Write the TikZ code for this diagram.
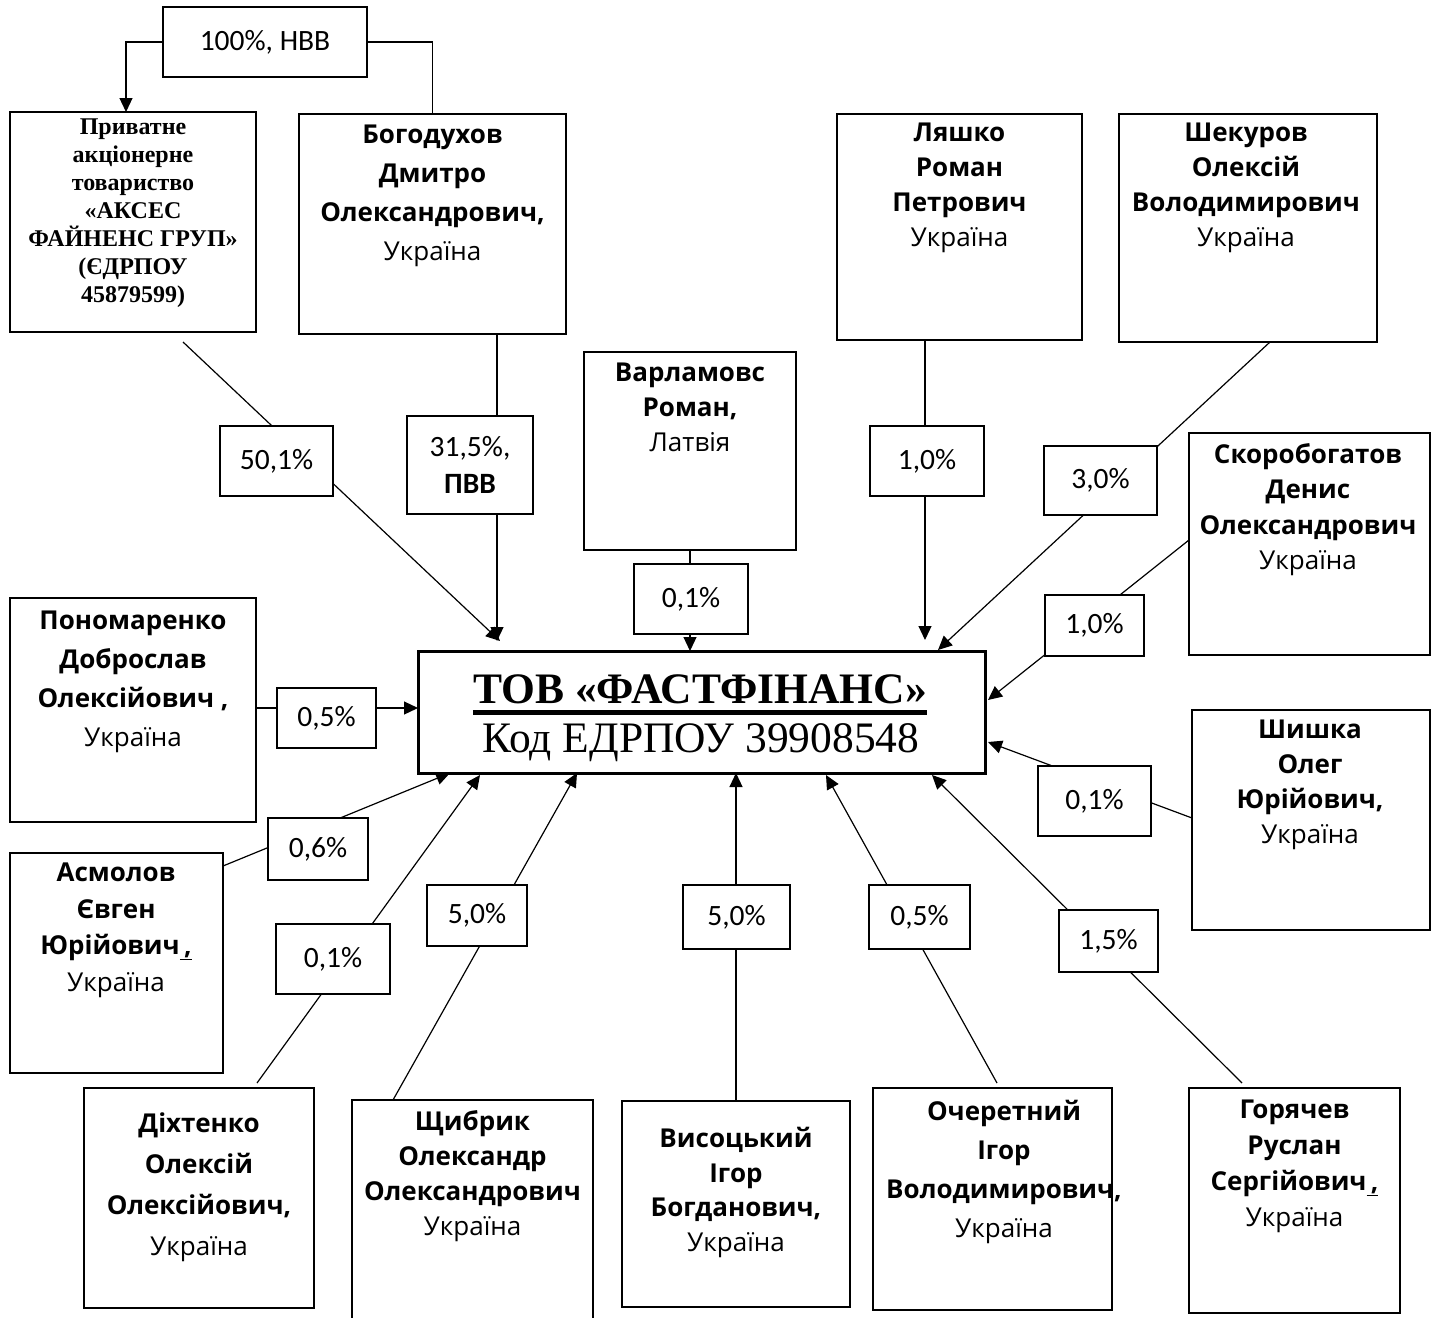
\documentclass[tikz,border=0pt]{standalone}
\usepackage{fontspec}
\setmainfont{Liberation Serif}
\newfontfamily\nmfont{Open Sans}
\newfontfamily\pcfont{Carlito}
\usetikzlibrary{arrows.meta,calc}

\tikzset{
  pbox/.style={draw, fill=white, line width=1.2pt, inner sep=0pt, outer sep=0pt,
    font=\pcfont\fontsize{29.5}{37}\selectfont, align=center},
  nbox/.style={draw, line width=2pt, inner sep=0pt, outer sep=0pt, anchor=north west},
  ntext/.style={anchor=north, align=center, inner sep=0pt,
    font=\nmfont\fontsize{26}{#1}\selectfont},
  ntext/.default=35,
  conn/.style={line width=1.2pt},
  arr/.style={conn, -{Triangle[length=14pt,width=13pt]}},
}

\begin{document}
\begin{tikzpicture}[x=1pt,y=-1pt]
\useasboundingbox (0,0) rectangle (1440,1317);
\clip (0,0) rectangle (1440,1317);

% ---------- shareholder boxes ----------
\node[nbox, minimum width=246pt, minimum height=220pt] (priv) at (10,112) {};
\node[nbox, minimum width=267pt, minimum height=220pt] (bog) at (299,114) {};
\node[nbox, minimum width=245pt, minimum height=226pt] (lya) at (837,114) {};
\node[nbox, minimum width=258pt, minimum height=228pt] (shek) at (1119,114) {};
\node[nbox, minimum width=212pt, minimum height=198pt] (var) at (584,352) {};
\node[nbox, minimum width=241pt, minimum height=222pt] (skor) at (1189,433) {};
\node[nbox, minimum width=246pt, minimum height=224pt] (pon) at (10,598) {};
\node[nbox, minimum width=213pt, minimum height=220pt] (asm) at (10,853) {};
\node[nbox, minimum width=238pt, minimum height=220pt] (shish) at (1192,710) {};
\node[nbox, minimum width=230pt, minimum height=220pt] (dikh) at (84,1088) {};
\node[nbox, minimum width=241pt, minimum height=224pt] (shch) at (352,1100) {};
\node[nbox, minimum width=228pt, minimum height=206pt] (vys) at (622,1101) {};
\node[nbox, minimum width=239pt, minimum height=222pt] (och) at (873,1088) {};
\node[nbox, minimum width=211pt, minimum height=225pt] (gor) at (1189,1088) {};

% ---------- centre box ----------
\node[nbox, line width=3pt, minimum width=567pt, minimum height=122pt] (ctr) at (418,651) {};
\node[anchor=base, inner sep=0pt, font=\bfseries\fontsize{43.5}{50}\selectfont] (ctrT) at (700,703) {ТОВ «ФАСТФІНАНС»};
\node[anchor=base, inner sep=0pt, font=\fontsize{43.5}{50}\selectfont] (ctrC) at (701,752) {Код ЕДРПОУ 39908548};
\draw[line width=5pt] ($(ctrT.base west)+(0,9)$) -- ($(ctrT.base east)+(0,9)$);

% ---------- texts ----------
\node[anchor=north, align=center, inner sep=0pt, font=\bfseries\fontsize{24}{28}\selectfont] (privT) at (133,119)
  {Приватне\\акціонерне\\товариство\\«АКСЕС\\ФАЙНЕНС ГРУП»\\(ЄДРПОУ\\45879599)};
\node[ntext=39] (bogT) at (432.5,125) {\textbf{Богодухов}\\\textbf{Дмитро}\\\textbf{Олександрович,}\\Україна};
\node[ntext] (lyaT) at (959.5,123) {\textbf{Ляшко}\\\textbf{Роман}\\\textbf{Петрович}\\Україна};
\node[ntext] (shekT) at (1246,123) {\textbf{Шекуров}\\\textbf{Олексій}\\\textbf{Володимирович}\\Україна};
\node[ntext] (varT) at (690,363) {\textbf{Варламовс}\\\textbf{Роман,}\\Латвія};
\node[ntext=35.5] (skorT) at (1308,443) {\textbf{Скоробогатов}\\\textbf{Денис}\\\textbf{Олександрович}\\Україна};
\node[ntext=39] (ponT) at (133,611) {\textbf{Пономаренко}\\\textbf{Доброслав}\\\textbf{Олексійович ,}\\Україна};
\node[ntext=36.5] (asmT) at (116,863) {\textbf{Асмолов}\\\textbf{Євген}\\\textbf{Юрійович\underline{\,,}}\\Україна};
\node[ntext] (shishT) at (1310,720) {\textbf{Шишка}\\\textbf{Олег}\\\textbf{Юрійович,}\\Україна};
\node[ntext=41] (dikhT) at (199,1113) {\textbf{Діхтенко}\\\textbf{Олексій}\\\textbf{Олексійович,}\\Україна};
\node[ntext] (shchT) at (472.5,1110) {\textbf{Щибрик}\\\textbf{Олександр}\\\textbf{Олександрович}\\Україна};
\node[ntext=34.5] (vysT) at (736,1127) {\textbf{Висоцький}\\\textbf{Ігор}\\\textbf{Богданович,}\\Україна};
\node[ntext=39] (ochT) at (1004,1100) {\textbf{Очеретний}\\\textbf{Ігор}\\\textbf{Володимирович,}\\Україна};
\node[ntext=36] (gorT) at (1294.5,1100) {\textbf{Горячев}\\\textbf{Руслан}\\\textbf{Сергійович\underline{\,,}}\\Україна};

% ---------- connectors ----------
\draw[arr] ($(priv.south)+(50,10)$) -- ($(ctr.north west)+(82,-10)$);
\draw[arr] ($(bog.south)+(64.5,0)$) -- ($(ctr.north west)+(79,-10)$);
\draw[arr] (var.south) -- (var.south |- ctr.north);
\draw[arr] ($(lya.south)+(-34.5,0)$) -- ($(ctr.north east)+(-60,-11)$);
\draw[arr] ($(shek.south)+(22,0)$) -- ($(ctr.north east)+(-47,-1)$);
\draw[arr] ($(skor.west)+(0,-4)$) -- ($(ctr.east)+(3,-12)$);
\draw[arr] ($(shish.west)+(0,-2)$) -- ($(ctr.east)+(3,30)$);
\draw[arr] ($(gor.north)+(-52.5,-5)$) -- ($(ctr.south east)+(-53,2)$);
\draw[arr] ($(och.north)+(4.5,-5)$) -- ($(ctr.south)+(124.5,2)$);
\draw[arr] (vys.north) -- (vys.north |- ctr.south);
\draw[arr] ($(shch.north)+(-79.5,0)$) -- ($(ctr.south west)+(159,0)$);
\draw[arr] ($(dikh.north)+(58,-5)$) -- ($(ctr.south west)+(62,2)$);
\draw[arr] ($(asm.north east)+(0,13)$) -- ($(ctr.south west)+(32,0)$);
\draw[arr] ($(pon.east)+(0,-2)$) -- ($(ctr.west)+(0,-4)$);

% ---------- percentage boxes ----------
\node[pbox, minimum width=204pt, minimum height=70pt] (hvv) at (265,42) {100\%, НВВ};
\draw[arr] (hvv.west) -| ($(priv.north)+(-7,0)$);
\draw[conn] (hvv.east) -| (bog.north);

\node[pbox, minimum width=113pt, minimum height=70pt] (p501) at (276.5,461) {50,1\%};
\node[pbox, minimum width=126pt, minimum height=98pt] (p315) at (470,465) {31,5\%,\\\textbf{ПВВ}};
\node[pbox, minimum width=114pt, minimum height=70pt] (pvar) at (691,599) {0,1\%};
\node[pbox, minimum width=114pt, minimum height=70pt] (plya) at (927,461) {1,0\%};
\node[pbox, minimum width=113pt, minimum height=69pt] (pshek) at (1100.5,480.5) {3,0\%};
\node[pbox, minimum width=99pt, minimum height=61pt] (pskor) at (1094.5,625.5) {1,0\%};
\node[pbox, minimum width=99pt, minimum height=60pt] (ppon) at (326.5,718) {0,5\%};
\node[pbox, minimum width=113pt, minimum height=70pt] (pshish) at (1094.5,801) {0,1\%};
\node[pbox, minimum width=100pt, minimum height=62pt] (pasm) at (318,849) {0,6\%};
\node[pbox, minimum width=114pt, minimum height=70pt] (pdikh) at (333,959) {0,1\%};
\node[pbox, minimum width=100pt, minimum height=61pt] (pshch) at (477,915.5) {5,0\%};
\node[pbox, minimum width=107pt, minimum height=64pt] (pvys) at (736.5,917) {5,0\%};
\node[pbox, minimum width=101pt, minimum height=64pt] (poch) at (919.5,917) {0,5\%};
\node[pbox, minimum width=99pt, minimum height=62pt] (pgor) at (1108.5,941) {1,5\%};
\end{tikzpicture}
\end{document}
